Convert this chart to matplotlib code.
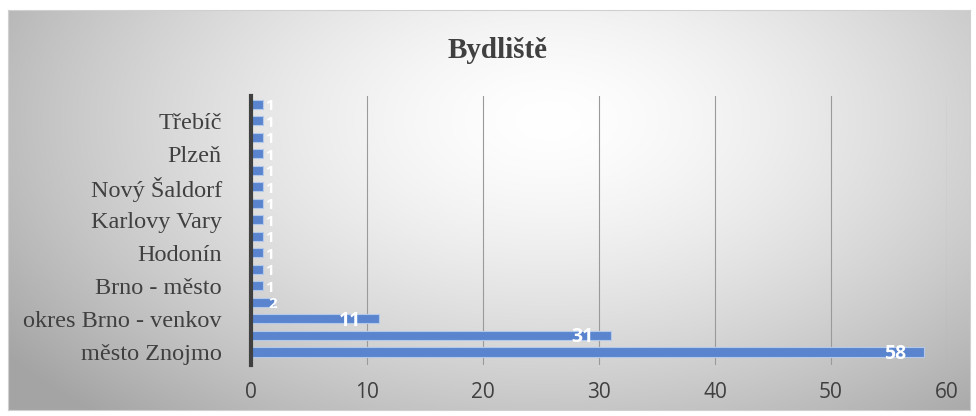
import numpy as np
import matplotlib
matplotlib.use("Agg")
import matplotlib.pyplot as plt

# -------------------------------
# Data (bottom to top)
# -------------------------------
categories = ["město Znojmo", "", "okres Brno - venkov", "", "Brno - město", "",
              "Hodonín", "", "Karlovy Vary", "", "Nový Šaldorf", "", "Plzeň", "",
              "Třebíč", ""]
values = [58, 31, 11, 2, 1, 1, 1, 1, 1, 1, 1, 1, 1, 1, 1, 1]
x_ticks = [0, 10, 20, 30, 40, 50, 60]

W, H = 976, 416
fig = plt.figure(figsize=(W / 100, H / 100), dpi=100)
fig.patch.set_facecolor("white")

# -------------------------------
# Radial gradient background
# -------------------------------
bg = fig.add_axes([8 / W, 6 / H, 962 / W, 400 / H], zorder=0)
yy, xx = np.mgrid[0:400, 0:962]
r = np.sqrt(((xx - 540) / 560.0) ** 2 + ((yy - 110) / 330.0) ** 2)
shade = 1 - 0.27 * np.clip(r, 0, 1.2) ** 1.5
bg.imshow(np.dstack([shade] * 3), aspect="auto", extent=[0, 1, 0, 1])
bg.set_xticks([])
bg.set_yticks([])
for s in bg.spines.values():
    s.set_color("#d0d0d0")
    s.set_linewidth(0.8)

# -------------------------------
# Bar chart
# -------------------------------
ax = fig.add_axes([251 / W, 1 - 365 / H, (947 - 251) / W, (365 - 96) / H], zorder=1)
ax.patch.set_alpha(0)
pos = np.arange(len(values))
ax.barh(pos, values, height=0.57, color="#5a85ce", edgecolor="#b4c8ea", linewidth=0.8, zorder=3)

ax.set_xlim(0, 60)
ax.set_ylim(-0.8, len(values) - 0.5)
ax.set_xticks(x_ticks)
ax.set_xticklabels([str(t) for t in x_ticks], fontname="Open Sans", fontsize=15, color="#404040")
ax.set_yticks(pos[::2])
ax.set_yticklabels(categories[::2], fontname="Liberation Serif", fontsize=17.5, color="#404040")
ax.tick_params(length=0)
ax.tick_params(axis="x", pad=12)
ax.tick_params(axis="y", pad=21)

ax.grid(axis="x", color="#9a9a9a", linewidth=0.8, zorder=0)
for side in ["top", "right", "bottom"]:
    ax.spines[side].set_visible(False)
ax.spines["left"].set_color("#404040")
ax.spines["left"].set_linewidth(3)
ax.spines["left"].set_zorder(4)

# data labels (white, inside end)
for p, v in zip(pos, values):
    if v >= 5:
        ax.text(v - 1.5, p - 0.12, str(v), ha="right", va="center", color="white",
                fontsize=14, fontweight="bold", fontname="Open Sans", zorder=5)
    else:
        ax.text(max(v - 0.5, 1.2), p - 0.12, str(v), ha="left", va="center", color="white",
                fontsize=11, fontweight="bold", fontname="Open Sans", zorder=5)

fig.text(498 / W, 1 - 50 / H, "Bydliště", ha="center", va="center",
         fontname="Liberation Serif", fontsize=21, fontweight="bold", color="#404040")

fig.savefig("out.png", dpi=100)
